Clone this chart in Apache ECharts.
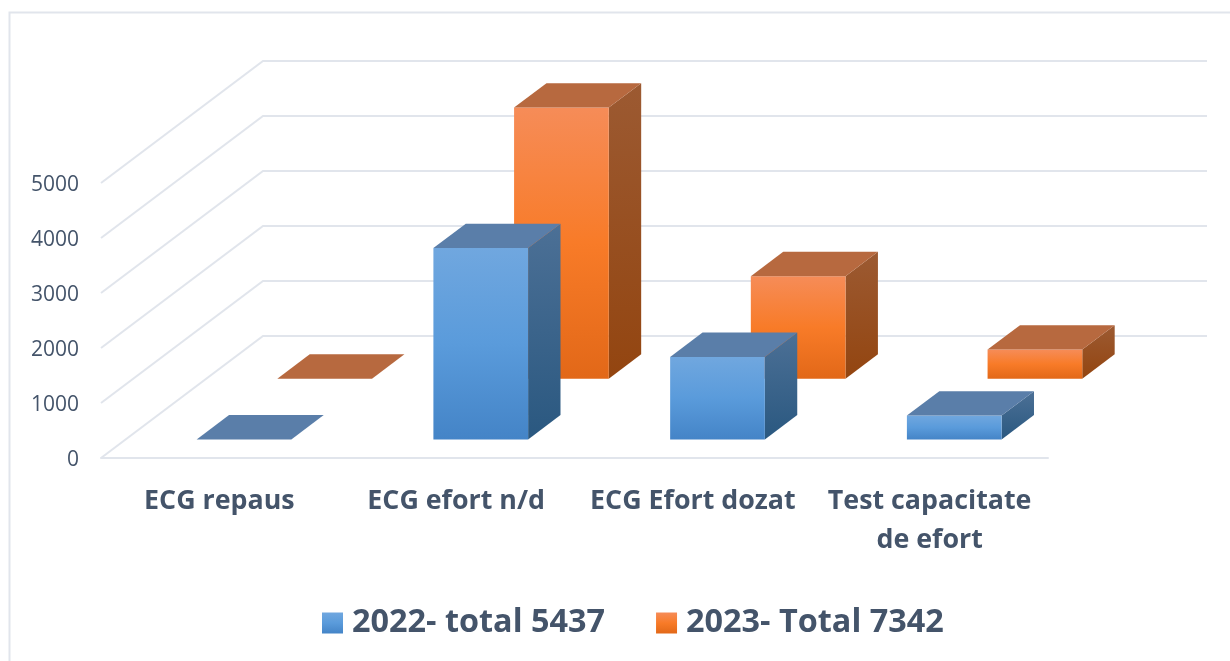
<!DOCTYPE html>
<html>
<head>
<meta charset="utf-8">
<style>
    html, body {margin: 0; padding: 0; background: #fff;}
    #chart {width: 1230px; height: 661px;}
</style>
<script src="https://cdn.jsdelivr.net/npm/echarts@6/dist/echarts.min.js"></script>
</head>
<body>
<div id="chart"></div>
<script>
const categories = ['ECG repaus', 'ECG efort n/d', 'ECG Efort dozat', 'Test capacitate\nde efort'];
const values_2022 = [0, 3480, 1500, 435];
const values_2023 = [0, 4930, 1865, 530];
const y_ticks = [0, 1000, 2000, 3000, 4000, 5000];
const name_2022 = '2022- total 5437';
const name_2023 = '2023- Total 7342';

const FONT = '"Open Sans", sans-serif';
const TEXT_COLOR = '#44546A';
const GRID_COLOR = '#E1E5EC';

// screen offset of the full floor depth (front axis -> back wall)
const DEPTH_DX = 162;
const DEPTH_DY = 122;
const BACK_INSET = 3; // back wall is a bit narrower than the front axis
const BAR_WIDTH = 0.4; // share of a category band

function vgrad(stops) {
    return new echarts.graphic.LinearGradient(0, 0, 0, 1, stops.map(function (c, i) {
        return {offset: i / (stops.length - 1), color: c};
    }));
}

const blue = {
    front: vgrad(['#70A7DF', '#5A9BDB', '#4484C7']),
    top: '#5A7EA9',
    side: vgrad(['#4C7096', '#2A5880'])
};
const orange = {
    front: vgrad(['#F68C58', '#F87B28', '#E26818']),
    top: '#B7693F',
    side: vgrad(['#9C5A32', '#934510'])
};

/**
 * 3d-looking column, front face sits at depth d0, back at d1 (0..1 of the floor)
 */
function render_bar(colors, d0, d1) {
    return function (params, api) {
        let i = api.value(0);
        let top = api.coord([i, api.value(1)]);
        let base = api.coord([i, 0]);
        let w = api.size([1, 0])[0] * BAR_WIDTH;

        let x0 = base[0] + d0 * DEPTH_DX - w / 2;
        let x1 = x0 + w;
        let yb = base[1] - d0 * DEPTH_DY;
        let yt = top[1] - d0 * DEPTH_DY;
        let dx = (d1 - d0) * DEPTH_DX;
        let dy = (d1 - d0) * DEPTH_DY;

        let children = [];
        if (yb - yt > 0.5) {
            children.push({
                type: 'polygon',
                shape: {points: [[x1, yt], [x1 + dx, yt - dy], [x1 + dx, yb - dy], [x1, yb]]},
                style: {fill: colors.side}
            });
            children.push({
                type: 'rect',
                shape: {x: x0, y: yt, width: w, height: yb - yt},
                style: {fill: colors.front}
            });
        }
        children.push({
            type: 'polygon',
            shape: {points: [[x0, yt], [x0 + dx, yt - dy], [x1 + dx, yt - dy], [x1, yt]]},
            style: {fill: colors.top}
        });
        return {type: 'group', children: children};
    };
}

// side wall diagonals and back wall lines for one tick
function render_wall(params, api) {
    let v = api.value(0);
    let band = api.size([1, 0])[0];
    let first = api.coord([0, v]);
    let left = first[0] - band / 2;
    let right = left + band * categories.length;
    let y = first[1];
    let style = {stroke: GRID_COLOR, lineWidth: 2, fill: null};
    return {
        type: 'polyline',
        shape: {points: [[left, y], [left + DEPTH_DX, y - DEPTH_DY], [right + DEPTH_DX - BACK_INSET, y - DEPTH_DY]]},
        style: style
    };
}

function pairs(list) {
    return list.map(function (v, i) {
        return [i, v];
    });
}

let chart = echarts.init(document.getElementById('chart'), null, {renderer: 'canvas'});
chart.setOption({
    animation: false,
    backgroundColor: '#fff',
    graphic: [
        {type: 'polyline', silent: true, shape: {points: [[9.5, 661], [9.5, 12.5], [1230, 12.5]]},
            style: {stroke: GRID_COLOR, lineWidth: 2, fill: null}}
    ],
    grid: {left: 101, top: 183, width: 947, height: 275},
    xAxis: {
        type: 'category',
        data: categories,
        axisLine: {show: true, lineStyle: {color: GRID_COLOR, width: 2}},
        axisTick: {show: false},
        splitLine: {show: false},
        axisLabel: {
            interval: 0, margin: 24, color: TEXT_COLOR, fontFamily: FONT,
            fontWeight: 'bold', fontSize: 26.8, lineHeight: 39
        }
    },
    yAxis: {
        type: 'value',
        min: 0,
        max: 5000,
        interval: 1000,
        axisLine: {show: false},
        axisTick: {show: false},
        splitLine: {show: false},
        axisLabel: {
            margin: 22,
            formatter: function (v) {
                return `{t|${v}}`;
            },
            rich: {
                t: {color: TEXT_COLOR, fontFamily: FONT, fontSize: 21, padding: [5, 0, 0, 0]}
            }
        }
    },
    legend: {
        data: [name_2022, name_2023],
        left: 317,
        top: 602,
        icon: 'rect',
        itemWidth: 21,
        itemHeight: 21,
        itemGap: 51,
        textStyle: {
            color: TEXT_COLOR, fontFamily: FONT, fontWeight: 'bold', fontSize: 32.4,
            padding: [7, 0, 0, 4]
        }
    },
    series: [
        {
            type: 'custom',
            name: 'walls',
            silent: true,
            z: 1,
            renderItem: render_wall,
            data: y_ticks.map(function (v) {
                return [v];
            }),
            encode: {y: 0}
        },
        {
            type: 'custom',
            name: name_2023,
            z: 2,
            itemStyle: {color: orange.front},
            renderItem: render_bar(orange, 0.65, 0.85),
            data: pairs(values_2023),
            encode: {x: 0, y: 1}
        },
        {
            type: 'custom',
            name: name_2022,
            z: 3,
            itemStyle: {color: blue.front},
            renderItem: render_bar(blue, 0.152, 0.352),
            data: pairs(values_2022),
            encode: {x: 0, y: 1}
        }
    ]
});
</script>
</body>
</html>
